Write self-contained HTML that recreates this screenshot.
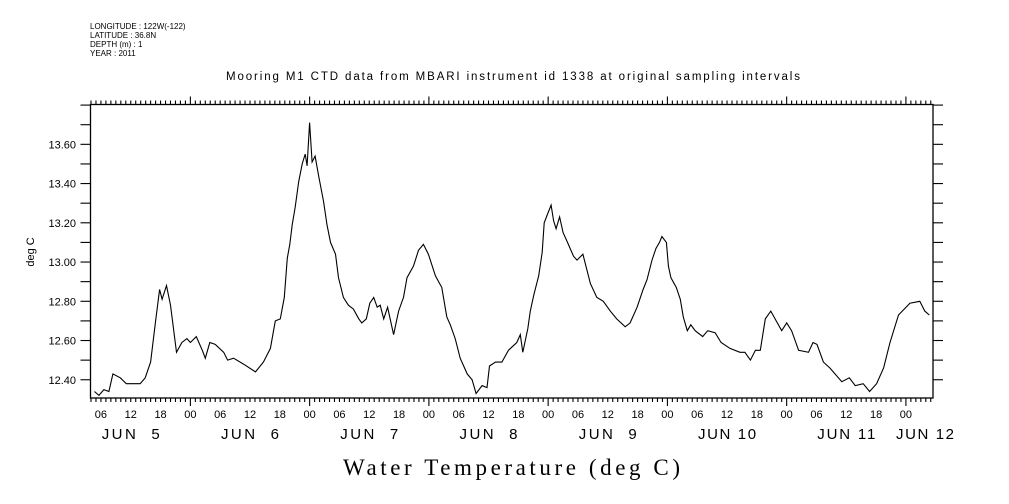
<!DOCTYPE html>
<html><head><meta charset="utf-8"><style>
html,body{margin:0;padding:0;background:#fff;}
svg{display:block;font-family:"Liberation Sans",sans-serif;}
</style></head><body>
<svg id="chart" width="1009" height="504" viewBox="0 0 1009 504">
<g font-size="8" fill="#000">
<text x="90" y="29">LONGITUDE : 122W(-122)</text>
<text x="90" y="38">LATITUDE : 36.8N</text>
<text x="90" y="47">DEPTH (m) : 1</text>
<text x="90" y="56">YEAR : 2011</text>
</g>
<text x="226" y="80" font-size="11.5" textLength="574" lengthAdjust="spacing">Mooring M1 CTD data from MBARI instrument id 1338 at original sampling intervals</text>
<text transform="translate(34,252) rotate(-90)" font-size="11" text-anchor="middle">deg C</text>
<text x="343" y="475" font-family="'Liberation Serif',serif" font-size="23" textLength="337" lengthAdjust="spacing">Water Temperature (deg C)</text>
<rect x="90.5" y="104.5" width="842.5" height="293.5" fill="none" stroke="#000" stroke-width="1.3"/>
<g id="axes"></g>
<path id="series" fill="none" stroke="#000" stroke-width="1.1"/>
</svg>
<script>
const hours = [4.7,5.6,6.6,7.6,8.4,9.9,11.1,13.9,14.9,16.0,17.0,17.8,18.3,19.2,20.0,21.2,22.3,23.3,24.0,25.2,26.4,27.0,27.9,29.0,30.7,31.5,32.7,34.7,37.1,38.7,40.1,41.1,42.1,42.9,43.5,44.0,44.5,45.1,45.8,46.5,47.1,47.5,48.0,48.5,49.1,49.8,50.8,51.5,52.2,53.2,53.8,54.8,55.8,56.8,57.9,58.5,59.4,60.1,60.9,61.6,
62.2,62.9,63.7,64.9,65.9,66.9,67.6,68.9,69.9,70.9,71.9,73.3,74.6,75.6,76.3,77.3,78.3,79.7,80.7,81.5,82.7,83.7,84.2,85.4,86.7,88.0,89.7,90.4,90.9,91.9,92.4,93.1,94.1,94.8,95.2,95.8,96.6,97.1,97.6,98.3,99.0,99.9,101.1,101.8,103.0,103.8,104.5,105.8,107.1,108.5,109.8,111.5,112.5,113.9,115.1,115.9,116.9,117.7,118.4,
118.9,119.8,120.2,120.7,121.8,122.6,123.2,124.0,124.7,125.6,127.1,128.1,129.6,130.8,132.6,134.6,135.6,136.7,137.7,138.7,139.7,140.8,141.9,143.0,144.0,145.0,146.4,148.4,149.3,150.1,151.4,152.7,155.1,156.6,157.8,159.4,160.7,162.1,163.5,164.8,166.5,168.8,170.8,171.8,172.7];
const temps = [12.34,12.32,12.35,12.34,12.43,12.41,12.38,12.38,12.41,12.49,12.70,12.86,12.81,12.88,12.78,12.54,12.59,12.61,12.59,12.62,12.55,12.51,12.59,12.58,12.54,12.50,12.51,12.48,12.44,12.49,12.56,12.70,12.71,12.82,13.02,13.09,13.19,13.28,13.41,13.50,13.55,13.49,13.71,13.51,13.54,13.44,13.31,13.19,13.10,13.04,12.92,12.82,12.78,12.76,12.71,12.69,12.71,12.79,12.82,12.77,
12.78,12.71,12.77,12.63,12.75,12.82,12.92,12.98,13.06,13.09,13.04,12.93,12.87,12.72,12.68,12.61,12.51,12.43,12.40,12.33,12.37,12.36,12.47,12.49,12.49,12.55,12.59,12.63,12.54,12.66,12.75,12.83,12.93,13.05,13.20,13.24,13.29,13.21,13.17,13.23,13.15,13.10,13.03,13.01,13.04,12.96,12.89,12.82,12.80,12.75,12.71,12.67,12.69,12.77,12.86,12.91,13.01,13.07,13.10,
13.13,13.10,12.98,12.92,12.87,12.81,12.72,12.65,12.68,12.65,12.62,12.65,12.64,12.59,12.56,12.54,12.54,12.50,12.55,12.55,12.71,12.75,12.70,12.65,12.69,12.65,12.55,12.54,12.59,12.58,12.49,12.46,12.39,12.41,12.37,12.38,12.34,12.38,12.46,12.59,12.73,12.79,12.80,12.75,12.73];
const yTickValues = [12.40,12.60,12.80,13.00,13.20,13.40,13.60];
const hourLabels = ["00","06","12","18"];
const dayLabels = ["JUN  5","JUN  6","JUN  7","JUN  8","JUN  9","JUN 10","JUN 11","JUN 12"];

const NS = "http://www.w3.org/2000/svg";
const X0 = 90.5, X1 = 933, Y0 = 398, Y1 = 104.5;
const hMin = 3.9, hMax = 173.45;
const tMin = 12.307, tMax = 13.803;
const xs = h => X0 + (h - hMin) / (hMax - hMin) * (X1 - X0);
const ys = t => Y0 - (t - tMin) / (tMax - tMin) * (Y0 - Y1);

let d = "";
for (let i = 0; i < hours.length; i++) d += (i ? "L" : "M") + xs(hours[i]).toFixed(1) + "," + ys(temps[i]).toFixed(1);
document.getElementById("series").setAttribute("d", d);

const axes = document.getElementById("axes");
function line(x1,y1,x2,y2,name){
  const l = document.createElementNS(NS,"line");
  l.setAttribute("x1",x1);l.setAttribute("y1",y1);l.setAttribute("x2",x2);l.setAttribute("y2",y2);
  l.setAttribute("stroke","#000");l.setAttribute("stroke-width","1.1");
  
  
  axes.appendChild(l);
}
function text(x,y,s,size,anchor,name,len){
  const t = document.createElementNS(NS,"text");
  t.setAttribute("x",x);t.setAttribute("y",y);t.setAttribute("font-size",size);t.setAttribute("text-anchor",anchor);
  t.setAttribute("xml:space","preserve");t.style.whiteSpace="pre";
  if (len) { t.setAttribute("textLength", len); t.setAttribute("lengthAdjust","spacing"); }
  t.textContent = s;
  
  
  axes.appendChild(t);
}
for (let h = Math.ceil(hMin); h <= hMax; h++) {
  const x = xs(h);
  const major = h % 24 === 0;
  const len = major ? 8 : 4;
  line(x, Y1, x, Y1 - len, "x-tick-top");
  line(x, Y0, x, Y0 + len, "x-tick-bottom");
  if (h % 6 === 0) text(x, 418, hourLabels[(h % 24) / 6], 11, "middle", "x-tick-label");
}
for (let k = 0; k < dayLabels.length; k++) {
  let x = xs(k * 24 + 12);
  if (k === dayLabels.length - 1) x = 925;
  text(x - 29, 439, dayLabels[k], 15, "start", "day-label", 58);
}
for (let v = 12.4; v <= tMax + 0.001; v += 0.1) {
  const y = ys(v);
  line(X0, y, X0 - 10, y, "y-tick-left");
  line(X1, y, X1 + 10, y, "y-tick-right");
}
yTickValues.forEach(v => text(76, ys(v) + 4, v.toFixed(2), 11, "end", "y-tick-label"));
</script>
</body></html>
